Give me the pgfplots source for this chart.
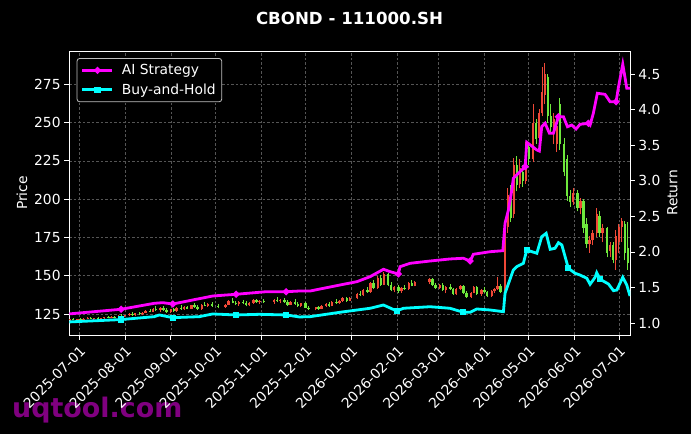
\documentclass[border=0pt]{standalone}
\usepackage{pgfplots}
\usepackage{pgfplotstable}
\pgfplotsset{compat=1.18}
\usepackage{fontspec}
\setmainfont{DejaVu Sans}
\definecolor{upc}{RGB}{240,72,55}
\definecolor{dnc}{RGB}{110,232,60}
\definecolor{gridc}{RGB}{85,85,85}
\definecolor{wm}{RGB}{128,0,128}
\definecolor{aic}{RGB}{255,0,255}
\definecolor{bhc}{RGB}{0,255,255}

% up candles (close > open), drawn red
\pgfplotstableread{
d o h l c
-6 121.0 122.0 120.5 121.6
-1 121.2 122.0 120.8 121.8
3 121.4 122.1 120.9 121.9
6 121.9 122.8 121.5 122.3
10 121.8 122.5 121.3 122.2
15 121.9 122.6 121.4 122.4
17 122.4 123.2 122.0 122.9
22 122.5 123.6 122.1 123.3
27 122.9 124.3 122.5 124.0
31 123.5 124.6 123.0 124.3
34 124.3 125.6 123.8 125.1
38 124.4 125.8 124.0 125.4
43 125.0 126.2 124.5 125.9
45 125.9 127.5 125.5 127.0
50 126.4 129.0 126.0 128.5
55 127.6 129.5 126.3 128.9
62 126.5 128.5 125.9 128.0
66 127.0 129.5 126.6 129.0
71 128.2 130.0 127.5 129.6
76 128.5 131.2 128.0 130.8
83 128.2 131.5 127.8 131.0
87 130.4 132.2 129.5 131.8
99 129.3 131.8 129.0 131.2
101 131.2 134.0 130.8 133.5
108 131.5 133.5 130.5 133.0
115 130.6 132.8 130.0 132.3
118 132.3 134.6 131.8 134.0
122 132.6 134.2 131.5 133.6
132 133.0 134.5 131.8 134.0
136 133.4 134.8 132.0 134.3
143 131.2 133.5 130.8 133.0
150 130.0 132.5 129.3 132.0
160 128.0 129.8 127.3 129.3
164 128.3 130.8 128.0 130.4
167 130.4 132.5 129.5 131.8
171 130.3 133.6 130.0 133.0
176 132.3 134.0 131.5 133.6
178 133.6 136.0 132.8 135.5
183 133.8 135.8 133.4 135.2
188 135.2 138.5 134.8 138.0
192 137.2 141.5 136.8 140.8
197 139.5 146.0 139.0 145.2
202 141.8 149.5 141.2 148.6
206 144.2 152.6 143.8 151.0
213 140.5 143.5 139.2 142.8
218 139.8 142.6 138.7 142.0
223 141.0 146.0 140.6 145.2
227 143.6 146.5 143.0 145.8
237 145.8 148.5 144.5 147.6
244 142.2 144.8 141.0 143.9
248 140.8 143.0 138.5 142.4
255 138.0 141.8 137.6 141.2
258 141.2 143.8 140.5 143.0
265 136.0 139.5 135.6 139.0
267 139.0 143.5 138.5 142.6
272 138.3 141.6 137.0 140.8
279 136.8 140.5 136.3 139.8
281 139.8 142.0 138.6 141.2
283 141.2 149.0 140.5 143.5
288 139.2 185.5 137.4 180.0
290 182 207 178 203
294 190 227 188 222
298 210 226 207 220
302 212 237 210 234
307 226 262 224 250
311 240 259 238 256
313 256 286 254 270
315 268 289 262 282
321 247 256 236 252
323 236 251 231 248
334 198 207 196 204
339 194 201 190 199
345 171 176 165 173
347 173 180 170 178
350 178 194 175 190
354 178 184 172 181
359 166 172 162 170
363 160 180 154 176
365 172 184 165 182
367 182 188 172 186
}\candlesup

% down candles (close < open), drawn green
\pgfplotstableread{
d o h l c
-4 121.6 122.3 121.0 121.2
1 121.8 122.4 121.2 121.4
8 122.3 122.9 121.6 121.8
13 122.2 122.8 121.7 121.9
20 122.9 123.5 122.2 122.5
24 123.3 124.0 122.6 122.9
29 124.0 125.0 123.2 123.5
36 125.1 126.0 124.0 124.4
41 125.4 126.4 124.6 125.0
48 127.0 128.2 126.0 126.4
52 128.5 130.5 127.0 127.6
57 128.9 130.0 127.2 127.6
59 127.6 128.8 125.8 126.5
64 128.0 129.2 126.5 127.0
69 129.0 130.8 127.8 128.2
73 129.6 130.5 128.0 128.5
78 130.8 132.5 129.0 129.6
80 129.6 131.0 127.5 128.2
85 131.0 133.0 130.0 130.4
90 131.8 133.0 129.8 130.2
94 130.2 131.5 128.6 129.3
104 133.5 135.2 132.0 132.4
106 132.4 133.8 131.0 131.5
111 133.0 134.2 131.4 131.9
113 131.9 133.2 130.0 130.6
120 134.0 135.0 132.2 132.6
125 133.6 135.0 132.5 133.0
134 134.0 135.8 133.0 133.4
139 134.3 135.6 132.5 132.9
141 132.9 134.0 130.5 131.2
146 133.0 134.5 131.0 131.5
148 131.5 132.8 129.5 130.0
153 132.0 133.0 128.8 129.2
155 129.2 130.5 127.5 128.0
162 129.3 130.2 127.8 128.3
169 131.8 133.0 129.8 130.3
174 133.0 134.8 131.8 132.3
181 135.5 136.3 133.0 133.8
190 138.0 140.0 136.5 137.2
195 140.8 142.8 139.0 139.5
199 145.2 147.0 141.0 141.8
204 148.6 150.2 143.5 144.2
209 151.0 151.5 143.0 144.0
211 144.0 146.2 139.8 140.5
216 142.8 144.0 139.0 139.8
220 142.0 144.2 140.5 141.0
225 145.2 147.0 143.0 143.6
239 147.6 148.2 143.2 144.0
241 144.0 145.0 141.5 142.2
246 143.9 145.2 140.2 140.8
251 142.4 144.5 140.8 141.3
253 141.3 142.2 137.4 138.0
260 143.0 144.0 137.8 138.5
262 138.5 139.8 135.4 136.0
269 142.6 143.2 137.5 138.3
274 140.8 142.6 138.5 139.2
276 139.2 140.2 136.2 136.8
285 143.5 144.3 138.5 139.2
292 203 209 185 188
296 222 228 205 209
300 218 222 208 212
304 234 236 222 226
309 250 252 236 239
317 280 282 250 254
319 254 262 243 247
325 262 266 232 236
328 236 240 215 218
330 226 229 199 202
332 202 206 195 198
337 204 206 192 194
341 199 200 178 181
343 184 188 168 171
352 189 192 175 178
357 181 182 162 165
361 170 172 158 160
369 184 186 160 165
371 168 185 154 158
}\candlesdn

\pgfplotstableread{
d r
-6.5 1.128
28.4 1.193
50.9 1.277
56.6 1.286
63.4 1.267
76.9 1.324
90.4 1.380
106.2 1.404
126.4 1.440
140 1.440
149 1.450
156.2 1.450
176.5 1.535
187.8 1.581
196.8 1.652
205.8 1.756
210.3 1.722
215.9 1.690
217 1.792
223.8 1.840
237.3 1.872
250.8 1.901
259.8 1.911
264.4 1.872
266.6 1.967
277.9 2.003
286.5 2.017
288.0 2.403
290.3 2.590
292.6 2.872
293.6 3.036
295.9 3.083
301.6 3.200
302.7 3.543
309.5 3.435
311.2 3.420
312.8 3.762
315.1 3.810
318 3.670
320.7 3.670
324.1 3.903
327.5 3.903
330.2 3.762
333.1 3.786
336 3.730
338.7 3.796
344.4 3.810
345.5 3.786
347.7 3.951
350.4 4.233
355.6 4.218
359 4.114
363.1 4.114
364.6 4.311
367.6 4.641
369.2 4.444
370.3 4.303
372.5 4.303
}\aistrat

\pgfplotstableread{
d r
-6.5 1.015
28.4 1.048
50.9 1.089
54.3 1.113
63.4 1.075
81.3 1.089
90.4 1.127
106.2 1.113
121.9 1.122
140 1.113
149 1.085
156.2 1.089
176.5 1.151
196.8 1.207
205.8 1.253
214.8 1.169
219.3 1.207
237.3 1.229
250.8 1.207
259.8 1.151
264.4 1.151
268.9 1.197
277.9 1.183
286.9 1.159
288 1.418
293.6 1.746
295.9 1.792
300.4 1.840
302.7 2.027
309.5 1.981
312.8 2.214
315.8 2.262
318.5 2.037
321.8 2.051
324.1 2.130
326.4 2.098
330.8 1.770
335.4 1.699
338.7 1.675
343.3 1.629
345.5 1.545
348.9 1.643
350 1.708
352.3 1.615
357.9 1.549
361.3 1.455
363.6 1.464
367.6 1.643
370.3 1.535
372.5 1.380
}\buyhold

\begin{document}
\begin{tikzpicture}[x=1bp,y=1bp]
\useasboundingbox (0,0) rectangle (691,434);
\fill[black] (0,0) rectangle (691,434);
\node[anchor=base west, inner sep=0pt, text=wm, font=\bfseries\fontsize{27}{30}\selectfont] at (12,16.5) {uqtool.com};
\node[text=white, font=\bfseries\fontsize{16.7}{20}\selectfont] at (349.5,416) {CBOND - 111000.SH};

\pgfplotsset{
  commonax/.style={
    at={(69bp,99bp)}, anchor=south west,
    scale only axis, width=561bp, height=284bp,
    xmin=-6.8, xmax=372.5,
    tick align=outside,
    major tick length=4.9bp,
    every tick/.style={white, line width=0.8bp},
    axis line style={white, line width=0.8bp},
    ticklabel style={text=white, font=\fontsize{13.9}{16}\selectfont},
    label style={text=white, font=\fontsize{13.9}{16}\selectfont},
    /pgf/number format/assume math mode=true,
  },
  wick/.style={line width=1bp, line cap=butt},
  body/.style={line width=2.4bp, line cap=butt},
}

\begin{axis}[commonax,
  ymin=111.3, ymax=296.7,
  xtick pos=left, ytick pos=left,
  xtick={0,31,62,92,123,153,184,215,243,274,304,335,365},
  xticklabels={2025-07-01,2025-08-01,2025-09-01,2025-10-01,2025-11-01,2025-12-01,2026-01-01,2026-02-01,2026-03-01,2026-04-01,2026-05-01,2026-06-01,2026-07-01},
  xticklabel style={rotate=45, anchor=north east, inner sep=2bp, xshift=-1.5bp, yshift=-1.5bp},
  ytick={125,150,175,200,225,250,275},
  grid=major,
  major grid style={gridc, dash pattern=on 2.5bp off 2bp, line width=0.5bp},
  ylabel={Price},
]
\addplot[draw=upc, wick, mark=none, quiver={u=0, v=\thisrow{h}-\thisrow{l}}] table[x=d, y=l] {\candlesup};
\addplot[draw=upc, body, mark=none, quiver={u=0, v=\thisrow{c}-\thisrow{o}}] table[x=d, y=o] {\candlesup};
\addplot[draw=dnc, wick, mark=none, quiver={u=0, v=\thisrow{h}-\thisrow{l}}] table[x=d, y=l] {\candlesdn};
\addplot[draw=dnc, body, mark=none, quiver={u=0, v=\thisrow{c}-\thisrow{o}}] table[x=d, y=o] {\candlesdn};
\end{axis}

\begin{axis}[commonax,
  ymin=0.831, ymax=4.828,
  axis x line=none,
  axis y line*=right,
  ytick={1,1.5,2,2.5,3,3.5,4,4.5},
  yticklabel style={/pgf/number format/.cd, fixed, fixed zerofill, precision=1},
  ylabel={Return},
  legend style={at={(0.0137,0.975)}, anchor=north west, fill=black, draw=white!75!black,
    text=white, rounded corners=2.5bp, font=\fontsize{13.9}{16}\selectfont,
    row sep=3.5bp, inner xsep=4bp, inner ysep=4bp, line width=0.8bp},
  legend cell align=left,
  legend image code/.code={\draw[mark repeat=2, mark phase=2, #1] plot coordinates {(0bp,0bp) (15bp,0bp) (30bp,0bp)}; \path (36bp,0bp);},
]
\addplot[aic, line width=2.8bp, mark=*, mark size=1.8bp, mark indices={2,5,8,10,18,24,33,41,47,53}, mark options={solid, fill=aic}] table[x=d, y=r] {\aistrat};
\addlegendentry{AI Strategy}
\addplot[bhc, line width=2.8bp, mark=square*, mark size=1.7bp, mark indices={2,5,8,10,16,20,29,37,44}, mark options={solid, fill=bhc}] table[x=d, y=r] {\buyhold};
\addlegendentry{Buy-and-Hold}
\end{axis}
\end{tikzpicture}
\end{document}
